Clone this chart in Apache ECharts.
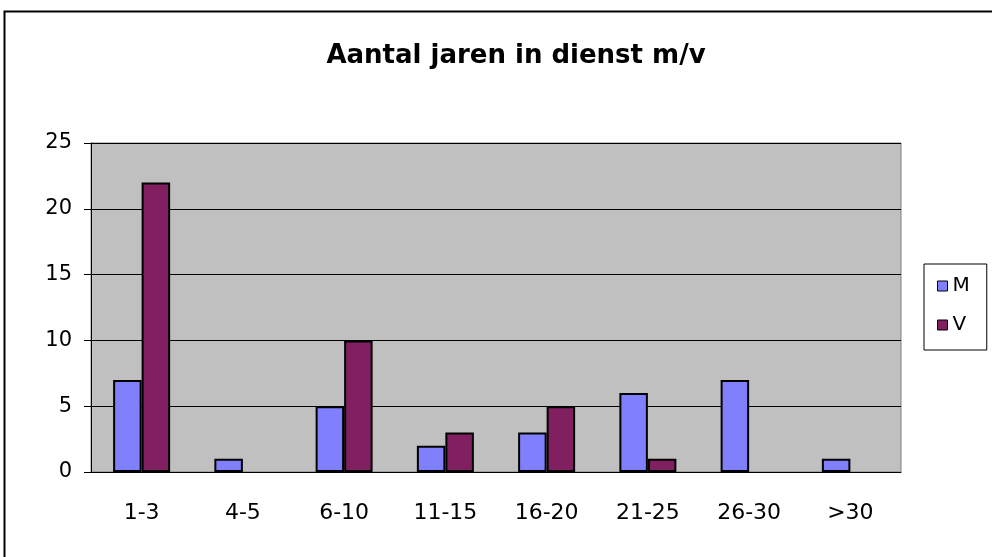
<!DOCTYPE html>
<html>
<head>
<meta charset="utf-8">
<script src="https://cdn.jsdelivr.net/npm/echarts@6/dist/echarts.min.js"></script>
<style>
  html, body { margin: 0; padding: 0; background: #fff; }
  #chart-container { width: 992px; height: 557px; }
</style>
</head>
<body>
<div id="chart-container"></div>
<script>
var categories = ['1-3', '4-5', '6-10', '11-15', '16-20', '21-25', '26-30', '>30'];
var valuesM = [7, 1, 5, 2, 3, 6, 7, 1];
var valuesV = [22, 0, 10, 3, 5, 1, 0, 0];
var yTicks = [0, 5, 10, 15, 20, 25];

var dom = document.getElementById('chart-container');
var myChart = echarts.init(dom, null, {renderer: 'canvas'});

var font = 'DejaVu Sans';

// Excel draws nothing for a zero bar, so drop the outline there
function barData(values) {
  return values.map(function (v) {
    return v === 0 ? {value: 0, itemStyle: {borderWidth: 0}} : v;
  });
}

option = {
  animation: false,
  backgroundColor: '#fff',
  graphic: [
    {
      type: 'rect',
      shape: {x: 4.5, y: 11.5, width: 1000, height: 600},
      style: {fill: 'none', stroke: '#000', lineWidth: 2}
    }
  ],
  title: {
    text: 'Aantal jaren in dienst m/v',
    left: 511,
    top: 38,
    textAlign: 'center',
    textStyle: {fontFamily: font, fontSize: 26, fontWeight: 'bold', color: '#000'}
  },
  legend: {
    orient: 'vertical',
    left: 924,
    top: 264,
    padding: [12, 17, 15, 13],
    itemGap: 19,
    itemWidth: 10,
    itemHeight: 10,
    itemTextGap: 6,
    icon: 'rect',
    backgroundColor: '#fff',
    borderColor: '#000',
    borderWidth: 1,
    itemStyle: {borderColor: '#000', borderWidth: 1},
    textStyle: {fontFamily: font, fontSize: 20, lineHeight: 20, color: '#000'},
    data: ['M', 'V']
  },
  grid: {
    left: 91,
    right: 91,
    top: 143,
    bottom: 85,
    show: true,
    backgroundColor: '#C0C0C0',
    borderColor: '#808080',
    borderWidth: 1
  },
  xAxis: {
    type: 'category',
    data: categories,
    axisLine: {lineStyle: {color: '#000', width: 1}},
    axisTick: {length: 7, lineStyle: {color: '#000'}},
    axisLabel: {fontFamily: font, fontSize: 22, color: '#000', margin: 30, interval: 0}
  },
  yAxis: {
    type: 'value',
    min: yTicks[0],
    max: yTicks[yTicks.length - 1],
    interval: 5,
    axisLine: {show: true, lineStyle: {color: '#000', width: 1}},
    axisTick: {show: true, length: 7, lineStyle: {color: '#000'}},
    axisLabel: {fontFamily: font, fontSize: 21, color: '#000', margin: 19},
    splitLine: {lineStyle: {color: '#000', width: 1}}
  },
  series: [
    {
      name: 'M',
      type: 'bar',
      data: barData(valuesM),
      barGap: '0%',
      barCategoryGap: '43.7%',
      itemStyle: {color: '#8080FF', borderColor: '#000', borderWidth: 2}
    },
    {
      name: 'V',
      type: 'bar',
      data: barData(valuesV),
      itemStyle: {color: '#802060', borderColor: '#000', borderWidth: 2}
    }
  ]
};

myChart.setOption(option);
window.addEventListener('resize', myChart.resize);
</script>
</body>
</html>
